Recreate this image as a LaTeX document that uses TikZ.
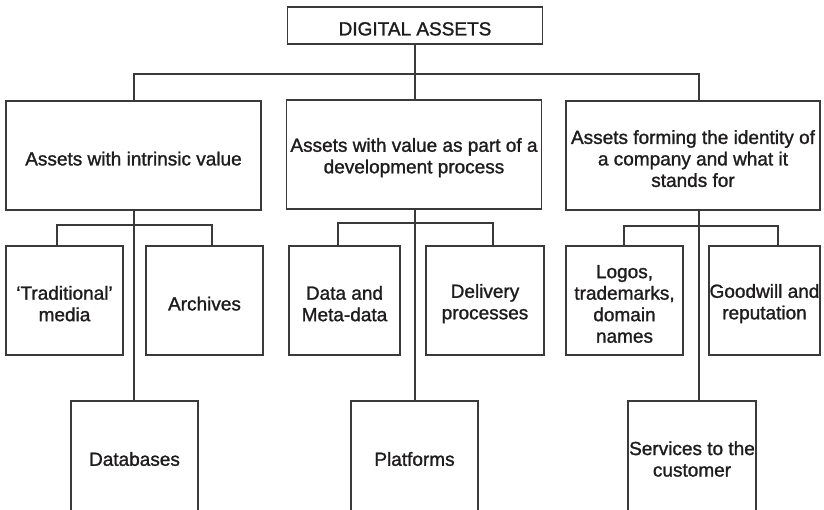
\documentclass[tikz,border=0pt]{standalone}
\usepackage{fontspec}
\setmainfont{Liberation Sans}[UprightFeatures={FakeBold=1.3}]
\definecolor{ink}{HTML}{1E1C1D}
\definecolor{linec}{HTML}{3A3A3A}
\newcommand\dn{\rule{0pt}{20pt}}
\begin{document}
\begin{tikzpicture}[x=1pt,y=-1pt,
  box/.style={draw=linec,line width=1.1pt,inner sep=0pt,align=center,text=ink,
    font=\fontsize{19pt}{21.5pt}\selectfont},
  conn/.style={draw=linec,line width=1.1pt}]
\useasboundingbox (0,0) rectangle (824,510);
\clip (0,0) rectangle (824,510);
% top
\node[box,minimum width=255pt,minimum height=37pt] (top) at (415,25.5) {\dn DIGITAL ASSETS};
% level 1
\node[box,minimum width=255pt,minimum height=109pt] (L) at (133.5,155.5) {\dn Assets with intrinsic value};
\node[box,minimum width=255pt,minimum height=109pt] (M) at (414,154.5) {\dn Assets with value as part of a\\development process};
\node[box,minimum width=254pt,minimum height=109pt] (R) at (693,155.5) {\dn Assets forming the identity of\\a company and what it\\stands for};
% level 2
\node[box,minimum width=117pt,minimum height=109pt] (trad) at (64.5,300.5) {\dn ‘Traditional’\\media};
\node[box,minimum width=117pt,minimum height=109pt] (arch) at (204.5,300.5) {\dn Archives};
\node[box,minimum width=111pt,minimum height=109pt] (data) at (344.5,300.5) {\dn Data and\\Meta-data};
\node[box,minimum width=118pt,minimum height=109pt] (deliv) at (485,300.5) {\dn Delivery\\processes};
\node[box,minimum width=117pt,minimum height=109pt] (logos) at (624.5,300.5) {\dn Logos,\\trademarks,\\domain\\names};
\node[box,minimum width=111pt,minimum height=109pt] (good) at (764.5,300.5) {\dn Goodwill and\\reputation};
% bottom (cut off)
\node[box,minimum width=127pt,minimum height=116pt] (db) at (134.5,459) {Databases};
\node[box,minimum width=127pt,minimum height=116pt] (plat) at (414.5,459) {Platforms};
\node[box,minimum width=128pt,minimum height=116pt] (serv) at (692,459) {Services to the\\customer};
% hubs
\coordinate (hL) at (134,74);
\coordinate (hM) at (415,74);
\coordinate (hR) at (699,74);
\coordinate (a1) at (57,225);
\coordinate (a2) at (212,225);
\coordinate (b1) at (338,223);
\coordinate (b2) at (493,223);
\coordinate (c1) at (624,226);
\coordinate (c2) at (778,226);
\coordinate (vL) at (134,0);
\coordinate (vM) at (415,0);
\coordinate (vR) at (699,0);
% top-level connectors
\draw[conn] (top.south -| vM) -- (M.north -| vM);
\draw[conn] (L.north -| hL) -- (hL) -- (hR) -- (R.north -| hR);
% groups
\draw[conn] (L.south -| vL) -- (db.north -| vL);
\draw[conn] (trad.north -| a1) -- (a1) -- (a2) -- (arch.north -| a2);
\draw[conn] (M.south -| vM) -- (plat.north -| vM);
\draw[conn] (data.north -| b1) -- (b1) -- (b2) -- (deliv.north -| b2);
\draw[conn] (R.south -| vR) -- (serv.north -| vR);
\draw[conn] (logos.north -| c1) -- (c1) -- (c2) -- (good.north -| c2);
\end{tikzpicture}
\end{document}
